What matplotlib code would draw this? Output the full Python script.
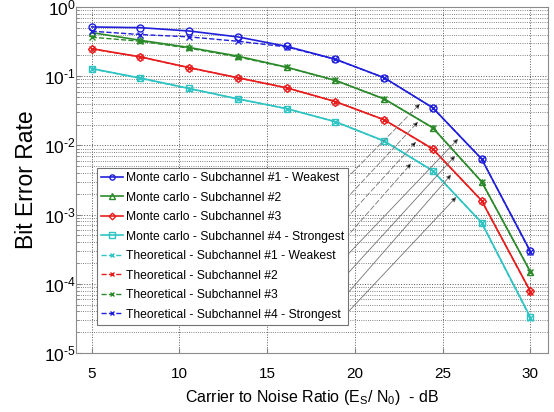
import numpy as np
import matplotlib
matplotlib.use("Agg")
import matplotlib.pyplot as plt
from matplotlib.ticker import LogLocator, NullFormatter, FuncFormatter

plt.rcParams["font.family"] = ["Liberation Sans", "DejaVu Sans"]
plt.rcParams["mathtext.fontset"] = "custom"
plt.rcParams["mathtext.rm"] = "Liberation Sans"

# data
snr_db = [5, 7.78, 10.56, 13.33, 16.11, 18.89, 21.67, 24.44, 27.22, 30]

mc_sub1 = [0.515, 0.503, 0.45, 0.37, 0.27, 0.176, 0.095, 0.035, 0.0064, 2.95e-4]
mc_sub2 = [0.427, 0.33, 0.26, 0.195, 0.135, 0.087, 0.047, 0.018, 0.003, 1.5e-4]
mc_sub3 = [0.25, 0.19, 0.133, 0.095, 0.068, 0.043, 0.0235, 0.0089, 0.0016, 7.8e-5]
mc_sub4 = [0.129, 0.094, 0.0665, 0.047, 0.034, 0.022, 0.0116, 0.0043, 7.7e-4, 3.3e-5]

th_sub1 = [0.128, 0.093, 0.066, 0.047, 0.034, 0.022, 0.0115, 0.0043, 7.6e-4, 3.2e-5]
th_sub2 = [0.248, 0.19, 0.132, 0.095, 0.068, 0.043, 0.0234, 0.0088, 0.0016, 7.7e-5]
th_sub3 = [0.366, 0.32, 0.254, 0.19, 0.134, 0.087, 0.047, 0.018, 0.003, 1.5e-4]
th_sub4 = [0.447, 0.40, 0.37, 0.32, 0.265, 0.175, 0.095, 0.035, 0.0064, 2.9e-4]

mc_labels = ["Monte carlo - Subchannel #1 - Weakest",
             "Monte carlo - Subchannel #2",
             "Monte carlo - Subchannel #3",
             "Monte carlo - Subchannel #4 - Strongest"]
th_labels = ["Theoretical - Subchannel #1 - Weakest",
             "Theoretical - Subchannel #2",
             "Theoretical - Subchannel #3",
             "Theoretical - Subchannel #4 - Strongest"]

# arrow targets (data) and arrow starts (legend edge, axes fraction)
arrow_x = [23.72, 23.61, 23.49, 23.21, 25.89, 25.72, 25.49, 25.78]
arrow_y = [0.040, 0.022, 0.0113, 0.0055, 0.0125, 0.0071, 0.0038, 0.0018]
start_y = [0.503, 0.445, 0.388, 0.333, 0.279, 0.224, 0.167, 0.112]

blue = "#1f1fdc"
green = "#2a8a2a"
red = "#e81c1c"
cyan = "#2ec4c4"

fig = plt.figure(figsize=(5.54, 4.12), dpi=100)
ax = fig.add_axes([0.137, 0.143, 0.852, 0.84])

mk = dict(markersize=5, markerfacecolor="none", markeredgewidth=1.0, lw=1.2)
ax.semilogy(snr_db, mc_sub1, "-o", color=blue, label=mc_labels[0], **mk)
ax.semilogy(snr_db, mc_sub2, "-^", color=green, label=mc_labels[1], **mk)
ax.semilogy(snr_db, mc_sub3, "-D", color=red, label=mc_labels[2], markersize=4.5,
            markerfacecolor="none", markeredgewidth=1.0, lw=1.2)
ax.semilogy(snr_db, mc_sub4, "-s", color=cyan, label=mc_labels[3], **mk)

tk = dict(markersize=4, markeredgewidth=1.0, lw=1.0)
ax.semilogy(snr_db, th_sub1, "--x", color=cyan, label=th_labels[0], **tk)
ax.semilogy(snr_db, th_sub2, "--x", color=red, label=th_labels[1], **tk)
ax.semilogy(snr_db, th_sub3, "--x", color=green, label=th_labels[2], **tk)
ax.semilogy(snr_db, th_sub4, "--x", color=blue, label=th_labels[3], **tk)

for i in range(len(arrow_x)):
    ls = (0, (6, 3)) if i < 4 else "-"
    ax.annotate("", xy=(arrow_x[i], arrow_y[i]), xycoords="data",
                xytext=(0.572, start_y[i]), textcoords="axes fraction",
                arrowprops=dict(arrowstyle="-|>", ec="0.45", fc="black", lw=0.6,
                                linestyle=ls, mutation_scale=7,
                                shrinkA=0, shrinkB=0))


def pow10(v, pos):
    e = int(round(np.log10(v)))
    if e < 0:
        return "$\\mathregular{10^{\u2010%d}}$" % (-e)
    return "$\\mathregular{10^{%d}}$" % e


ax.set_xlim(4.1, 31)
ax.set_ylim(1e-5, 1)
ax.set_xticks([5, 10, 15, 20, 25, 30])
ax.yaxis.set_major_locator(LogLocator(base=10, numticks=10))
ax.yaxis.set_major_formatter(FuncFormatter(pow10))
ax.yaxis.set_minor_locator(LogLocator(base=10, subs=np.arange(2, 10), numticks=20))
ax.yaxis.set_minor_formatter(NullFormatter())

ax.grid(True, which="major", color="0.35", linestyle=":", linewidth=0.7)
ax.grid(True, which="minor", axis="y", color="0.35", linestyle=":", linewidth=0.6)
ax.tick_params(axis="both", which="both", direction="in", colors="0.5")
ax.tick_params(axis="x", labelsize=11, labelcolor="black", pad=10)
ax.tick_params(axis="y", labelsize=12.5, labelcolor="black", pad=0)
for s in ax.spines.values():
    s.set_color("0.55")

ax.set_xlabel("Carrier to Noise Ratio (E$_\\mathregular{S}$/ N$_\\mathregular{0}$)  - dB",
              fontsize=11.5, labelpad=5)
ax.set_ylabel("Bit Error Rate", fontsize=16.5, labelpad=4)

leg = ax.legend(loc="upper left", bbox_to_anchor=(0.044, 0.535), borderaxespad=0,
                fontsize=8.7, fancybox=False, edgecolor="0.45", framealpha=1,
                handlelength=1.8, handletextpad=0.25, labelspacing=0.62,
                borderpad=0.35, markerscale=0.75)
leg.get_frame().set_linewidth(0.8)
leg.set_zorder(5)

fig.savefig("out.png", dpi=100)
